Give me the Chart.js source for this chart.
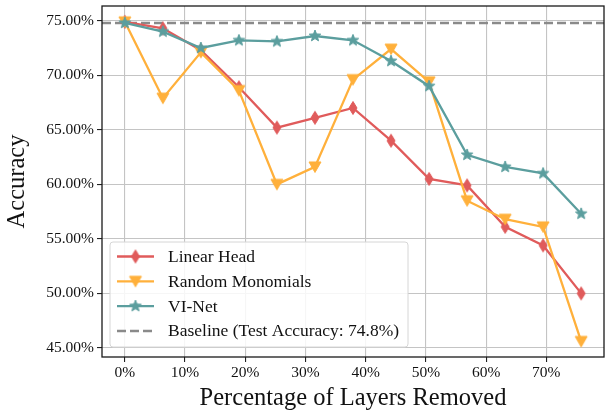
<!DOCTYPE html>
<html>
<head>
<meta charset="utf-8">
<script src="https://cdn.jsdelivr.net/npm/chart.js@4.4.1/dist/chart.umd.min.js"></script>
<style>
  html, body { margin: 0; padding: 0; background: #fff; }
  #wrap { width: 605px; height: 414px; }
</style>
</head>
<body>
<div id="wrap"><canvas id="mychart" width="605" height="414"></canvas></div>
<script>
// Percentage of layers removed (x positions)
const layersRemoved = [0, 6.32, 12.63, 18.95, 25.26, 31.58, 37.89, 44.21, 50.53, 56.84, 63.16, 69.47, 75.79];

// Accuracy per method (%)
const linearHead = [74.9, 74.3, 72.3, 68.9, 65.2, 66.1, 67.0, 64.0, 60.5, 59.9, 56.1, 54.4, 50.0];
const randomMonomials = [74.9, 67.9, 72.1, 68.6, 60.0, 61.6, 69.6, 72.4, 69.4, 58.5, 56.8, 56.1, 45.6];
const viNet = [74.8, 74.0, 72.5, 73.2, 73.1, 73.6, 73.2, 71.3, 69.0, 62.7, 61.6, 61.0, 57.3];
const baseline = 74.8;

const seriesLabels = ["Linear Head", "Random Monomials", "VI-Net", "Baseline (Test Accuracy: 74.8%)"];
const xTicks = [0, 10, 20, 30, 40, 50, 60, 70];
const yTicks = [45, 50, 55, 60, 65, 70, 75];
const xLimits = [-3.79, 79.58];
const yLimits = [44.17, 76.35];

const RED = "#e05b5b";
const ORANGE = "#ffb03b";
const TEAL = "#5b9e9e";
const GRAY = "#8a8a8a";
const FONT = "'Liberation Serif', 'Times New Roman', serif";

// small canvases used as point styles (matplotlib-like markers)
function makeMarker(shape, color) {
  const c = document.createElement("canvas");
  const s = 16;
  c.width = s; c.height = s;
  const g = c.getContext("2d");
  g.fillStyle = color;
  g.strokeStyle = color;
  g.lineWidth = 1;
  g.beginPath();
  const m = s / 2;
  if (shape === "thinDiamond") {
    g.moveTo(m, m - 6.5);
    g.lineTo(m + 4, m);
    g.lineTo(m, m + 6.5);
    g.lineTo(m - 4, m);
  } else if (shape === "triangleDown") {
    g.moveTo(m - 6, m - 5);
    g.lineTo(m + 6, m - 5);
    g.lineTo(m, m + 5.5);
  } else if (shape === "star") {
    for (let i = 0; i < 10; i++) {
      const r = i % 2 === 0 ? 6 : 2.6;
      const a = -Math.PI / 2 + i * Math.PI / 5;
      const px = m + r * Math.cos(a), py = m + r * Math.sin(a);
      if (i === 0) g.moveTo(px, py); else g.lineTo(px, py);
    }
  }
  g.closePath();
  g.fill();
  g.stroke();
  return c;
}

const markers = {
  red: makeMarker("thinDiamond", RED),
  orange: makeMarker("triangleDown", ORANGE),
  teal: makeMarker("star", TEAL),
};

function toPoints(ys) {
  return ys.map((y, i) => ({ x: layersRemoved[i], y: y }));
}

// frame around the plot area
const framePlugin = {
  id: "frame",
  afterDatasetsDraw(chart) {
    const a = chart.chartArea;
    const g = chart.ctx;
    g.save();
    g.strokeStyle = "#1a1a1a";
    g.lineWidth = 1.3;
    g.strokeRect(a.left, a.top, a.right - a.left, a.bottom - a.top);
    g.restore();
  },
};

// legend drawn inside the plot, lower left
const legendPlugin = {
  id: "innerLegend",
  afterDraw(chart) {
    const g = chart.ctx;
    const a = chart.chartArea;
    const bx = a.left + 8, by = 242, bw = 298, bh = 105;
    g.save();
    g.fillStyle = "rgba(255,255,255,0.85)";
    g.strokeStyle = "#d6d6d6";
    g.lineWidth = 1;
    g.beginPath();
    g.roundRect(bx, by, bw, bh, 3);
    g.fill();
    g.stroke();

    const entries = [
      { color: RED, marker: markers.red, dash: [] },
      { color: ORANGE, marker: markers.orange, dash: [] },
      { color: TEAL, marker: markers.teal, dash: [] },
      { color: GRAY, marker: null, dash: [9, 4] },
    ];
    g.font = "17.5px " + FONT;
    g.textBaseline = "middle";
    entries.forEach((e, i) => {
      const y = 256.5 + i * 24.8;
      g.strokeStyle = e.color;
      g.lineWidth = e.marker ? 2.3 : 2.5;
      g.setLineDash(e.dash);
      g.beginPath();
      g.moveTo(117, y);
      g.lineTo(154, y);
      g.stroke();
      g.setLineDash([]);
      if (e.marker) g.drawImage(e.marker, 135.5 - 8, y - 8);
      g.fillStyle = "#111";
      g.fillText(seriesLabels[i], 168, y + 1);
    });
    g.restore();
  },
};

const ctx = document.getElementById("mychart").getContext("2d");

const myChart = new Chart(ctx, {
  type: "line",
  data: {
    datasets: [
      {
        label: seriesLabels[0],
        data: toPoints(linearHead),
        borderColor: RED,
        backgroundColor: RED,
        pointStyle: markers.red,
        borderWidth: 2.3,
        order: 3,
      },
      {
        label: seriesLabels[1],
        data: toPoints(randomMonomials),
        borderColor: ORANGE,
        backgroundColor: ORANGE,
        pointStyle: markers.orange,
        borderWidth: 2.3,
        order: 2,
      },
      {
        label: seriesLabels[2],
        data: toPoints(viNet),
        borderColor: TEAL,
        backgroundColor: TEAL,
        pointStyle: markers.teal,
        borderWidth: 2.3,
        order: 1,
      },
      {
        label: seriesLabels[3],
        data: [{ x: xLimits[0], y: baseline }, { x: xLimits[1], y: baseline }],
        borderColor: GRAY,
        borderWidth: 2.5,
        borderDash: [9, 4],
        pointRadius: 0,
        order: 4,
      },
    ],
  },
  options: {
    responsive: false,
    animation: false,
    layout: { autoPadding: false, padding: { top: 6, right: 1, left: 0, bottom: 0 } },
    plugins: {
      legend: { display: false },
      tooltip: { enabled: false },
    },
    elements: {
      line: { tension: 0 },
    },
    scales: {
      x: {
        type: "linear",
        min: xLimits[0],
        max: xLimits[1],
        afterBuildTicks: (s) => { s.ticks = xTicks.map((v) => ({ value: v })); },
        afterFit: (s) => { s.height = 57; s.paddingLeft = 0; s.paddingRight = 0; },
        border: { display: false },
        grid: { color: "#c4c4c4", lineWidth: 1.1, tickColor: "#222", tickLength: 5 },
        ticks: {
          color: "#111",
          font: { family: FONT, size: 15.5 },
          padding: 2,
          maxRotation: 0,
          callback: (v) => v + "%",
        },
        title: {
          display: true,
          text: "Percentage of Layers Removed",
          color: "#111",
          font: { family: FONT, size: 24.5 },
          padding: { top: 0, bottom: 1 },
        },
      },
      y: {
        min: yLimits[0],
        max: yLimits[1],
        afterBuildTicks: (s) => { s.ticks = yTicks.map((v) => ({ value: v })); },
        afterFit: (s) => { s.width = 102; s.paddingTop = 0; s.paddingBottom = 0; },
        border: { display: false },
        grid: { color: "#c4c4c4", lineWidth: 1.1, tickColor: "#222", tickLength: 5 },
        ticks: {
          color: "#111",
          font: { family: FONT, size: 15.5 },
          padding: 3,
          callback: (v) => v.toFixed(2) + "%",
        },
        title: {
          display: true,
          text: "Accuracy",
          color: "#111",
          font: { family: FONT, size: 24.5 },
          padding: { top: 3, bottom: 0 },
        },
      },
    },
  },
  plugins: [framePlugin, legendPlugin],
});
</script>
</body>
</html>
